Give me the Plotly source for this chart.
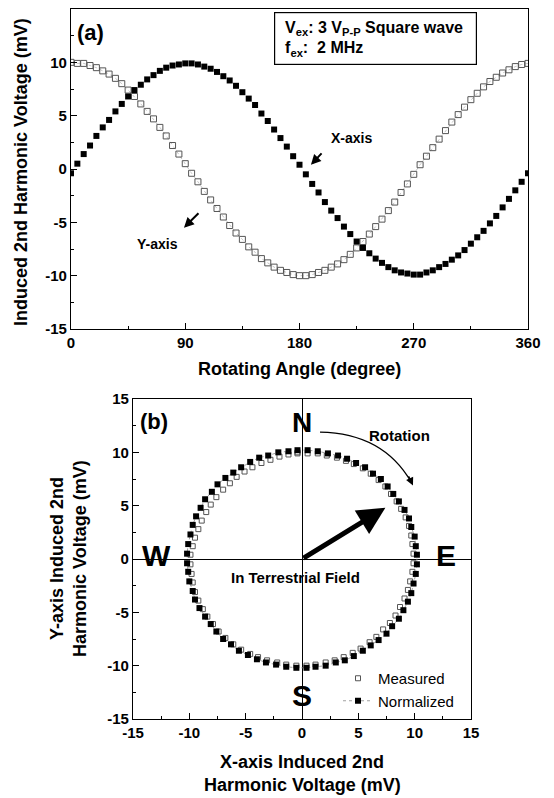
import plotly.graph_objects as go

# ---------------- data ----------------
angle_deg = [0, 5, 10, 15, 20, 25, 30, 35, 40, 45, 50, 55, 60, 65, 70, 75, 80, 85, 90, 95,
             100, 105, 110, 115, 120, 125, 130, 135, 140, 145, 150, 155, 160, 165, 170, 175,
             180, 185, 190, 195, 200, 205, 210, 215, 220, 225, 230, 235, 240, 245, 250, 255,
             260, 265, 270, 275, 280, 285, 290, 295, 300, 305, 310, 315, 320, 325, 330, 335,
             340, 345, 350, 355, 360]

x_axis_mv = [-0.4, 0.5, 1.4, 2.2, 3.1, 3.9, 4.6, 5.4, 6.1, 6.8,
             7.4, 7.9, 8.4, 8.8, 9.2, 9.5, 9.7, 9.8, 9.9, 9.9,
             9.8, 9.6, 9.4, 9.1, 8.7, 8.3, 7.8, 7.2, 6.6, 6.0,
             5.2, 4.5, 3.7, 2.9, 2.1, 1.2, 0.4, -0.5, -1.4, -2.2,
             -3.1, -3.9, -4.6, -5.4, -6.1, -6.8, -7.4, -7.9, -8.4, -8.8,
             -9.2, -9.5, -9.7, -9.8, -9.9, -9.9, -9.7, -9.5, -9.2, -8.9,
             -8.5, -8.1, -7.6, -7.0, -6.4, -5.8, -5.1, -4.4, -3.6, -2.8,
             -2.0, -1.2, -0.4]

y_axis_mv = [10.0, 9.9, 9.9, 9.7, 9.5, 9.2, 8.9, 8.5, 8.0, 7.4,
             6.8, 6.1, 5.4, 4.7, 3.9, 3.1, 2.2, 1.4, 0.5, -0.4,
             -1.2, -2.1, -2.9, -3.7, -4.5, -5.3, -6.0, -6.6, -7.3, -7.8,
             -8.4, -8.8, -9.2, -9.5, -9.7, -9.9, -10.0, -10.0, -9.9, -9.7,
             -9.5, -9.2, -8.9, -8.5, -8.0, -7.4, -6.8, -6.1, -5.4, -4.7,
             -3.9, -3.1, -2.2, -1.4, -0.5, 0.4, 1.2, 2.0, 2.8, 3.6,
             4.4, 5.1, 5.8, 6.5, 7.1, 7.7, 8.2, 8.6, 9.0, 9.3,
             9.6, 9.8, 9.9]

norm_x_mv = [-0.4, 0.5, 1.4, 2.3, 3.2, 4.0, 4.8, 5.6, 6.3, 7.0,
             7.6, 8.1, 8.6, 9.1, 9.5, 9.7, 10.0, 10.1, 10.2, 10.2,
             10.1, 9.9, 9.7, 9.4, 9.0, 8.6, 8.0, 7.5, 6.8, 6.1,
             5.4, 4.6, 3.8, 3.0, 2.1, 1.2, 0.4, -0.5, -1.4, -2.3,
             -3.2, -4.0, -4.8, -5.6, -6.3, -7.0, -7.6, -8.1, -8.6, -9.1,
             -9.5, -9.7, -10.0, -10.1, -10.2, -10.2, -10.1, -9.9, -9.7, -9.4,
             -9.0, -8.6, -8.0, -7.5, -6.8, -6.1, -5.4, -4.6, -3.8, -3.0,
             -2.1, -1.2]

norm_y_mv = [10.2, 10.2, 10.1, 9.9, 9.7, 9.4, 9.0, 8.6, 8.0, 7.5,
             6.8, 6.1, 5.4, 4.6, 3.8, 3.0, 2.1, 1.2, 0.4, -0.5,
             -1.4, -2.3, -3.2, -4.0, -4.8, -5.6, -6.3, -7.0, -7.6, -8.1,
             -8.6, -9.1, -9.5, -9.7, -10.0, -10.1, -10.2, -10.2, -10.1, -9.9,
             -9.7, -9.4, -9.0, -8.6, -8.0, -7.5, -6.8, -6.1, -5.4, -4.6,
             -3.8, -3.0, -2.1, -1.2, -0.4, 0.5, 1.4, 2.3, 3.2, 4.0,
             4.8, 5.6, 6.3, 7.0, 7.6, 8.1, 8.6, 9.1, 9.5, 9.7,
             10.0, 10.1]

top_xticks = [0, 90, 180, 270, 360]
top_xlabels = ["0", "90", "180", "270", "360"]
v_ticks = [-15, -10, -5, 0, 5, 10, 15]
v_labels = ["-15", "-10", "-5", "0", "5", "10", "15"]

# ---------------- figure ----------------
OFF = 8                      # page body margin
W, H = 554 - OFF, 798 - OFF  # figure size so that it fits the window
FONT = "Liberation Sans"
BLACK = "#000000"

def fx(px):
    return (px - OFF) / W

def fy(py):
    return 1 - (py - OFF) / H

fig = go.Figure()

# top panel
fig.add_trace(go.Scatter(
    x=angle_deg, y=y_axis_mv, mode="lines+markers", xaxis="x", yaxis="y",
    line=dict(color="#aaaaaa", width=0.7, dash="dot"),
    marker=dict(symbol="square-open", size=6, color="#555555", line=dict(width=1)),
    showlegend=False))
fig.add_trace(go.Scatter(
    x=angle_deg, y=x_axis_mv, mode="markers", xaxis="x", yaxis="y",
    marker=dict(symbol="square", size=6, color=BLACK),
    showlegend=False))

# bottom panel
fig.add_trace(go.Scatter(
    x=x_axis_mv, y=y_axis_mv, mode="markers", xaxis="x2", yaxis="y2",
    marker=dict(symbol="square-open", size=5, color="#555555", line=dict(width=1)),
    name="Measured"))
fig.add_trace(go.Scatter(
    x=norm_x_mv, y=norm_y_mv, mode="lines+markers", xaxis="x2", yaxis="y2",
    line=dict(color="#888888", width=0.8, dash="dot"),
    marker=dict(symbol="square", size=6, color=BLACK),
    name="Normalized"))

axis_common = dict(
    showline=True, linecolor=BLACK, linewidth=1.3, mirror=True,
    ticks="inside", ticklen=6, tickwidth=1.2, tickcolor=BLACK,
    showgrid=False, automargin=False,
    tickfont=dict(family=FONT, size=15, color=BLACK, weight="bold"),
)

fig.update_layout(
    template="none",
    width=W, height=H,
    margin=dict(l=0, r=0, t=0, b=0, pad=0),
    paper_bgcolor="white", plot_bgcolor="white",
    font=dict(family=FONT, color=BLACK),
    xaxis=dict(axis_common, domain=[fx(71), fx(528)], anchor="y",
               range=[0, 360], tickvals=top_xticks, ticktext=top_xlabels, zeroline=False,
               minor=dict(tickvals=[45, 135, 225, 315], ticks="inside", ticklen=3, tickcolor=BLACK)),
    yaxis=dict(axis_common, domain=[fy(329), fy(9)], anchor="x",
               range=[-15, 15], tickvals=v_ticks, ticktext=v_labels, zeroline=False,
               minor=dict(dtick=2.5, ticks="inside", ticklen=3, tickcolor=BLACK)),
    xaxis2=dict(axis_common, domain=[fx(133), fx(471)], anchor="y2",
                range=[-15, 15], tickvals=v_ticks, ticktext=v_labels,
                zeroline=True, zerolinecolor=BLACK, zerolinewidth=1,
                minor=dict(dtick=2.5, ticks="inside", ticklen=3, tickcolor=BLACK)),
    yaxis2=dict(axis_common, domain=[fy(719), fy(399)], anchor="x2",
                range=[-15, 15], tickvals=v_ticks, ticktext=v_labels,
                zeroline=True, zerolinecolor=BLACK, zerolinewidth=1,
                minor=dict(dtick=2.5, ticks="inside", ticklen=3, tickcolor=BLACK)),
    legend=dict(x=fx(338), y=fy(662), xanchor="left", yanchor="top",
                bgcolor="rgba(0,0,0,0)", borderwidth=0,
                font=dict(family=FONT, size=15, color=BLACK),
                itemwidth=30, tracegroupgap=0),
)

def px_ann(text, xpx, ypx, size, bold=True, angle=0, xanchor="center", yanchor="middle", **kw):
    fig.add_annotation(
        text=text, x=fx(xpx), y=fy(ypx), xref="paper", yref="paper",
        showarrow=False, textangle=angle, xanchor=xanchor, yanchor=yanchor,
        font=dict(family=FONT, size=size, color=BLACK, weight="bold" if bold else "normal"),
        **kw)

# axis titles
px_ann("Induced 2nd Harmonic Voltage (mV)", 21, 172, 18, angle=-90)
px_ann("Rotating Angle (degree)", 299, 369, 18)
px_ann("Y-axis Induced 2nd", 57, 559, 18, angle=-90)
px_ann("Harmonic Voltage (mV)", 80, 559, 18, angle=-90)
px_ann("X-axis Induced 2nd", 302, 762, 18)
px_ann("Harmonic Voltage (mV)", 302, 785, 18)

# panel labels
px_ann("(a)", 90, 32, 22)
px_ann("(b)", 154, 421, 22)

# info box
fig.add_annotation(
    text="&nbsp;&nbsp;V<sub>ex</sub>: 3 V<sub>P-P</sub> Square wave<br>&nbsp;&nbsp;f<sub>ex</sub>:  2 MHz",
    x=fx(274), y=fy(12), xref="paper", yref="paper",
    xanchor="left", yanchor="top", align="left", showarrow=False,
    width=199, height=49, borderpad=1,
    bordercolor=BLACK, borderwidth=1.2, bgcolor="white",
    font=dict(family=FONT, size=16, color=BLACK, weight="bold"))

# top labels with arrows
fig.add_annotation(text="X-axis", x=221, y=2.9, xref="x", yref="y", showarrow=False,
                   font=dict(family=FONT, size=14, color=BLACK, weight="bold"))
fig.add_annotation(text="", x=189, y=0.4, ax=198.5, ay=1.6, xref="x", yref="y",
                   axref="x", ayref="y", showarrow=True, arrowhead=2, arrowsize=1,
                   arrowwidth=2, arrowcolor=BLACK)
fig.add_annotation(text="Y-axis", x=68.5, y=-7.0, xref="x", yref="y", showarrow=False,
                   font=dict(family=FONT, size=14, color=BLACK, weight="bold"))
fig.add_annotation(text="", x=89.0, y=-5.5, ax=101.6, ay=-4.0, xref="x", yref="y",
                   axref="x", ayref="y", showarrow=True, arrowhead=2, arrowsize=1,
                   arrowwidth=2, arrowcolor=BLACK)

# compass letters
px_ann("N", 302, 422, 28)
px_ann("W", 156, 555, 30)
px_ann("E", 446, 555, 30)
px_ann("S", 302, 695, 30)
px_ann("Rotation", 399, 435, 15)
px_ann("In Terrestrial Field", 295, 577, 15)

# big field arrow
fig.add_annotation(text="", x=7.4, y=4.8, ax=0, ay=0, xref="x2", yref="y2",
                   axref="x2", ayref="y2", showarrow=True, arrowhead=2, arrowsize=1.1,
                   arrowwidth=5, arrowcolor=BLACK, standoff=0, startstandoff=0)

# rotation curved arrow
fig.add_shape(type="path", xref="x2", yref="y2",
              path="M 1.6 11.9 Q 7.2 11.8 9.7 7.2",
              line=dict(color=BLACK, width=1.3))
fig.add_annotation(text="", x=9.85, y=6.9, ax=9.4, ay=7.9, xref="x2", yref="y2",
                   axref="x2", ayref="y2", showarrow=True, arrowhead=2, arrowsize=1.2,
                   arrowwidth=1.3, arrowcolor=BLACK)

fig.write_html("out.html")
